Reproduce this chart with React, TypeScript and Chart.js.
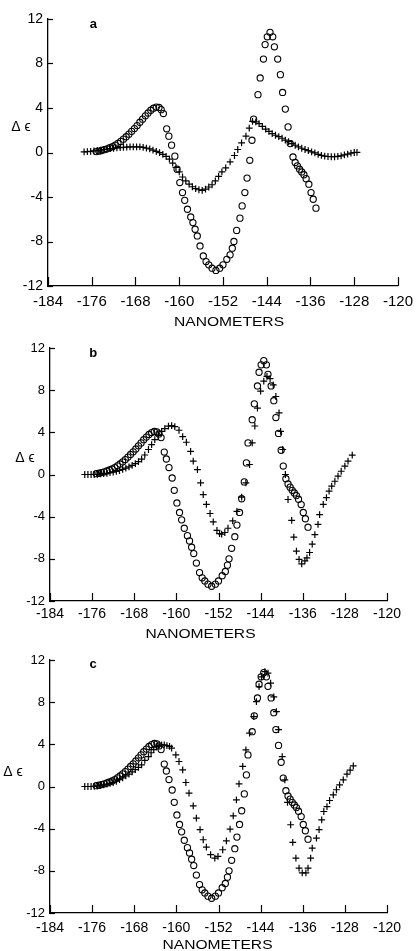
import React, { useEffect, useRef } from 'react';
import { Chart, registerables } from 'chart.js';

Chart.register(...registerables);

// ---- tick labels / texts ----
const X_TICKS = [-184, -176, -168, -160, -152, -144, -136, -128, -120];
const Y_TICKS = [-12, -8, -4, 0, 4, 8, 12];
const PANEL_LETTERS = ['a', 'b', 'c'];
const Y_AXIS_LABEL = 'Δ ϵ';
const X_AXIS_LABEL = 'NANOMETERS';

// ---- observed spectrum (circles, same in all three panels) ----
const CIRCLE_NM = [
  -175.2, -174.7, -174.2, -173.7, -173.2, -172.7, -172.2, -171.7, -171.2, -170.7,
  -170.2, -169.7, -169.2, -168.7, -168.2, -167.7, -167.2, -166.7, -166.2, -165.7,
  -165.2, -164.7, -164.2, -163.7, -163.3, -162.9, -162.3, -161.9, -161.4, -160.8,
  -160.4, -159.9, -159.4, -159.0, -158.5, -157.9, -157.5, -157.1, -156.7, -156.2,
  -155.6, -155.1, -154.6, -154.0, -153.3, -152.6, -152.0, -151.3, -150.7, -150.3,
  -150.0, -149.5, -148.9, -148.5, -148.0, -147.6, -147.1, -146.7, -146.4, -145.6,
  -145.2, -144.6, -144.3, -143.9, -143.4, -142.9, -142.6, -142.0, -141.5, -141.1,
  -140.6, -140.1, -139.7, -139.2, -138.8, -138.4, -138.0, -137.6, -137.2, -136.8,
  -136.3, -135.9, -135.5, -135.0,
];
const CIRCLE_DE = [
  0.08, 0.12, 0.18, 0.25, 0.33, 0.43, 0.52, 0.66, 0.82, 1.0,
  1.2, 1.42, 1.65, 1.9, 2.15, 2.42, 2.72, 3.0, 3.3, 3.55,
  3.8, 3.98, 4.08, 4.05, 3.85, 3.5, 2.13, 1.47, 0.66, -0.33,
  -1.5, -2.7, -3.6, -4.3, -5.1, -5.8, -6.3, -6.9, -7.5, -8.4,
  -9.3, -9.8, -10.1, -10.4, -10.6, -10.4, -10.1, -9.6, -9.2, -8.6,
  -8.0, -7.0, -5.9, -4.8, -3.6, -2.3, -0.7, 1.1, 3.0, 5.2,
  6.7, 8.4, 9.7, 10.4, 10.8, 10.4, 9.5, 8.4, 7.0, 5.4,
  3.9, 2.3, 0.8, -0.4, -0.9, -1.2, -1.5, -1.75, -2.0, -2.35,
  -2.85, -3.6, -4.2, -5.0,
];

// ---- calculated spectra (crosses) ----
const CROSS_A_NM = [
  -177.4, -176.8, -176.2, -175.6, -175.0, -174.4, -173.8, -173.2, -172.6, -172.0,
  -171.4, -170.8, -170.2, -169.6, -169.0, -168.4, -167.8, -167.2, -166.6, -166.0,
  -165.4, -164.8, -164.2, -163.6, -163.0, -162.4, -161.8, -161.2, -160.6, -160.0,
  -159.4, -158.8, -158.2, -157.6, -157.0, -156.4, -155.8, -155.2, -154.6, -154.0,
  -153.4, -152.8, -152.2, -151.5, -150.7, -149.9, -149.3, -148.6, -147.8, -147.2,
  -146.6, -146.0, -145.4, -144.8, -144.2, -143.6, -143.0, -142.4, -141.8, -141.2,
  -140.6, -140.0, -139.4, -138.8, -138.2, -137.6, -137.0, -136.4, -135.8, -135.2,
  -134.6, -134.0, -133.4, -132.8, -132.2, -131.6, -131.0, -130.4, -129.8, -129.2,
  -128.6, -128.0, -127.5,
];
const CROSS_A_DE = [
  0.05, 0.08, 0.1, 0.14, 0.18, 0.22, 0.27, 0.31, 0.34, 0.37,
  0.41, 0.44, 0.47, 0.49, 0.5, 0.51, 0.51, 0.5, 0.46, 0.4,
  0.32, 0.22, 0.1, -0.02, -0.16, -0.35, -0.6, -0.95, -1.35, -1.75,
  -2.2, -2.55, -2.85, -3.08, -3.25, -3.35, -3.4, -3.3, -3.1, -2.9,
  -2.55, -2.15, -1.75, -1.38, -0.84, -0.27, 0.27, 0.87, 1.47, 2.2,
  2.8, 2.75, 2.6, 2.35, 2.1, 1.9, 1.7, 1.55, 1.42, 1.28,
  1.12, 0.98, 0.8, 0.65, 0.5, 0.38, 0.27, 0.16, 0.05, -0.04,
  -0.16, -0.25, -0.32, -0.36, -0.38, -0.38, -0.35, -0.3, -0.22, -0.14,
  -0.06, 0.0, 0.02,
];

const CROSS_B_NM = [
  -177.4, -176.8, -176.2, -175.6, -175.0, -174.4, -173.8, -173.2, -172.6, -172.0,
  -171.4, -170.8, -170.2, -169.6, -169.0, -168.4, -167.8, -167.2, -166.6, -166.0,
  -165.3, -164.7, -164.1, -163.4, -162.8, -162.2, -161.5, -160.9, -160.3, -159.5,
  -158.8, -158.1, -157.3, -156.8, -156.0, -155.4, -154.9, -154.3, -153.6, -153.0,
  -152.3, -151.8, -151.4, -150.8, -150.2, -149.3, -148.5, -147.6, -146.8, -146.1,
  -145.6, -145.1, -144.6, -144.0, -143.4, -142.8, -142.2, -141.6, -141.1, -140.5,
  -140.2, -139.8, -139.3, -138.8, -138.1, -137.7, -137.2, -136.7, -136.2, -135.6,
  -135.2, -134.7, -134.2, -133.7, -133.1, -132.8, -132.1, -131.5, -131.0, -130.5,
  -129.9, -129.3, -128.7, -128.0, -127.4, -126.6,
];
const CROSS_B_DE = [
  0, 0, 0, 0, 0.02, 0.05, 0.08, 0.12, 0.17, 0.22,
  0.3, 0.38, 0.48, 0.6, 0.72, 0.87, 1.03, 1.22, 1.45, 1.85,
  2.37, 2.84, 3.3, 3.7, 4.1, 4.36, 4.58, 4.64, 4.55, 4.2,
  3.6, 3.06, 2.2, 1.26, 0.47, -0.8, -1.9, -2.84, -3.7, -4.5,
  -5.3, -5.6, -5.65, -5.5, -5.1, -4.4, -3.5, -2.15, -0.8, 0.95,
  3.0, 4.6, 6.3, 7.9, 8.85, 9.3, 9.1, 8.5, 7.4, 5.84,
  4.1, 2.37, 0.0, -2.37, -4.36, -5.94, -7.27, -8.06, -8.47, -8.2,
  -7.9, -7.4, -6.6, -5.7, -4.74, -3.8, -2.84, -2.2, -1.58, -1.1,
  -0.64, -0.16, 0.31, 0.79, 1.26, 1.83,
];

const CROSS_C_NM = [
  -177.4, -176.8, -176.2, -175.6, -175.0, -174.4, -173.8, -173.2, -172.6, -172.0,
  -171.4, -170.8, -170.2, -169.6, -169.0, -168.4, -167.8, -167.2, -166.6, -166.0,
  -165.3, -164.8, -164.3, -163.8, -163.3, -162.8, -162.3, -161.8, -161.3, -160.9,
  -160.1, -159.5, -158.8, -158.2, -157.6, -156.8, -156.2, -155.5, -154.9, -154.3,
  -153.5, -152.7, -152.1, -151.2, -150.5, -149.8, -149.2, -148.6, -148.1, -147.4,
  -146.8, -146.1, -145.3, -144.8, -144.3, -143.8, -143.2, -142.6, -142.1, -141.5,
  -141.0, -140.6, -139.9, -139.4, -138.9, -138.3, -137.9, -137.3, -136.7, -136.1,
  -135.4, -135.0, -134.5, -134.2, -133.4, -132.9, -132.4, -132.0, -131.4, -130.9,
  -130.2, -129.6, -129.0, -128.3, -127.6, -127.0, -126.4,
];
const CROSS_C_DE = [
  0, 0, 0, 0.02, 0.05, 0.1, 0.15, 0.22, 0.3, 0.38,
  0.5, 0.65, 0.82, 1.0, 1.18, 1.38, 1.6, 1.82, 2.06, 2.47,
  2.84, 3.2, 3.5, 3.75, 3.88, 3.95, 3.95, 3.88, 3.8, 3.64,
  3.0, 2.37, 1.58, 0.38, -0.63, -1.83, -3.0, -4.1, -5.05, -5.75,
  -6.47, -6.8, -6.63, -6.0, -5.15, -4.04, -2.78, -1.26, 0.25, 1.9,
  3.48, 5.06, 6.63, 8.06, 9.48, 10.4, 10.9, 10.75, 9.8, 8.5,
  7.1, 5.4, 2.84, 0.63, -1.5, -3.63, -5.3, -6.8, -7.74, -8.2,
  -8.2, -7.74, -6.8, -5.84, -4.9, -4.1, -3.16, -2.37, -1.9, -1.33,
  -0.79, -0.31, 0.16, 0.63, 1.17, 1.55, 1.96,
];

const CROSS_NM = [CROSS_A_NM, CROSS_B_NM, CROSS_C_NM];
const CROSS_DE = [CROSS_A_DE, CROSS_B_DE, CROSS_C_DE];

// ---- layout / style per panel ----
const FONT = "'Liberation Sans', Arial, sans-serif";
const PANEL_STYLES = [
  { top: 0, height: 332, left: 48, right: 402, areaTop: 19, areaBottom: 286, xFont: 15, yFont: 14, xPad: 7, xTickLen: 9,
    deltaDx: -27, deltaVal: 2.25, letterNm: -175.7, letterVal: 11.5, titleDx: 6, titleDy: 36 },
  { top: 332, height: 308, left: 50, right: 387, areaTop: 16, areaBottom: 269, xFont: 14, yFont: 13, xPad: 5, xTickLen: 8,
    deltaDx: -25, deltaVal: 1.55, letterNm: -175.8, letterVal: 11.5, titleDx: -18, titleDy: 33 },
  { top: 640, height: 311, left: 50, right: 387, areaTop: 20, areaBottom: 273, xFont: 14, yFont: 13, xPad: 7, xTickLen: 8,
    deltaDx: -37, deltaVal: 1.4, letterNm: -175.8, letterVal: 11.6, titleDx: -1, titleDy: 32 },
];

function Panel({ idx }: { idx: number }) {
  const ref = useRef<HTMLCanvasElement | null>(null);
  const s = PANEL_STYLES[idx];

  useEffect(() => {
    const canvas = ref.current;
    if (!canvas) return;
    const pts = (xs: number[], ys: number[]) => xs.map((v, i) => ({ x: v, y: ys[i] }));

    const decor = {
      id: 'decor' + idx,
      afterDraw(chart: any) {
        const { ctx, chartArea } = chart;
        const xs = chart.scales.x;
        const ys = chart.scales.y;
        ctx.save();
        ctx.strokeStyle = '#000';
        ctx.lineWidth = 1.2;
        xs.ticks.forEach((t: any) => {
          const px = Math.round(xs.getPixelForValue(t.value)) + 0.5;
          ctx.beginPath();
          ctx.moveTo(px, chartArea.bottom);
          ctx.lineTo(px, chartArea.bottom - s.xTickLen);
          ctx.stroke();
        });
        ys.ticks.forEach((t: any) => {
          const py = Math.round(ys.getPixelForValue(t.value)) + 0.5;
          ctx.beginPath();
          ctx.moveTo(chartArea.left, py);
          ctx.lineTo(chartArea.left + 5, py);
          ctx.stroke();
        });
        ctx.fillStyle = '#000';
        ctx.textAlign = 'center';
        ctx.textBaseline = 'middle';
        ctx.font = `bold 13px ${FONT}`;
        ctx.fillText(PANEL_LETTERS[idx], xs.getPixelForValue(s.letterNm), ys.getPixelForValue(s.letterVal));
        ctx.font = `14px ${FONT}`;
        ctx.fillText(Y_AXIS_LABEL, chartArea.left + s.deltaDx, ys.getPixelForValue(s.deltaVal));
        ctx.font = `13px ${FONT}`;
        ctx.translate((chartArea.left + chartArea.right) / 2 + s.titleDx, chartArea.bottom + s.titleDy);
        ctx.scale(1.2, 1);
        ctx.fillText(X_AXIS_LABEL, 0, 0);
        ctx.restore();
      },
    };

    const chart = new Chart(canvas, {
      type: 'scatter',
      data: {
        datasets: [
          {
            data: pts(CIRCLE_NM, CIRCLE_DE),
            pointStyle: 'circle',
            pointRadius: 3.1,
            pointBorderWidth: 1.1,
            pointBorderColor: '#000',
            pointBackgroundColor: 'rgba(0,0,0,0)',
            showLine: false,
          },
          {
            data: pts(CROSS_NM[idx], CROSS_DE[idx]),
            pointStyle: 'cross',
            pointRadius: 3.4,
            pointBorderWidth: 1.2,
            pointBorderColor: '#000',
            pointBackgroundColor: '#000',
            showLine: false,
          },
        ],
      },
      options: {
        responsive: false,
        animation: false,
        devicePixelRatio: 1,
        events: [],
        layout: { padding: { top: s.areaTop, right: 420 - s.right, left: 0, bottom: 0 } },
        plugins: { legend: { display: false }, tooltip: { enabled: false } },
        scales: {
          x: {
            type: 'linear',
            min: X_TICKS[0],
            max: X_TICKS[X_TICKS.length - 1],
            afterBuildTicks: (sc: any) => { sc.ticks = X_TICKS.map((v) => ({ value: v })); },
            afterFit: (sc: any) => { sc.height = s.height - s.areaBottom; },
            grid: { display: false, drawTicks: false, tickLength: 0 },
            border: { display: true, color: '#000', width: 1.3 },
            ticks: {
              autoSkip: false,
              maxRotation: 0,
              minRotation: 0,
              color: '#000',
              padding: s.xPad,
              font: { family: FONT, size: s.xFont },
              callback: (v: any) => String(v),
            },
          },
          y: {
            type: 'linear',
            min: Y_TICKS[0],
            max: Y_TICKS[Y_TICKS.length - 1],
            afterBuildTicks: (sc: any) => { sc.ticks = Y_TICKS.map((v) => ({ value: v })); },
            afterFit: (sc: any) => { sc.width = s.left; },
            grid: { display: false, drawTicks: false, tickLength: 0 },
            border: { display: true, color: '#000', width: 1.3 },
            ticks: {
              autoSkip: false,
              color: '#000',
              padding: 5,
              font: { family: FONT, size: s.yFont },
              callback: (v: any) => String(v),
            },
          },
        },
      },
      plugins: [decor],
    } as any);
    return () => chart.destroy();
  }, [idx]);

  return (
    <canvas
      ref={ref}
      width={420}
      height={s.height}
      style={{ position: 'absolute', left: 0, top: s.top, display: 'block' }}
    />
  );
}

export default function App() {
  return (
    <div style={{ position: 'absolute', left: 0, top: 0, width: 420, height: 951, background: '#fff', overflow: 'hidden' }}>
      <Panel idx={0} />
      <Panel idx={1} />
      <Panel idx={2} />
    </div>
  );
}
